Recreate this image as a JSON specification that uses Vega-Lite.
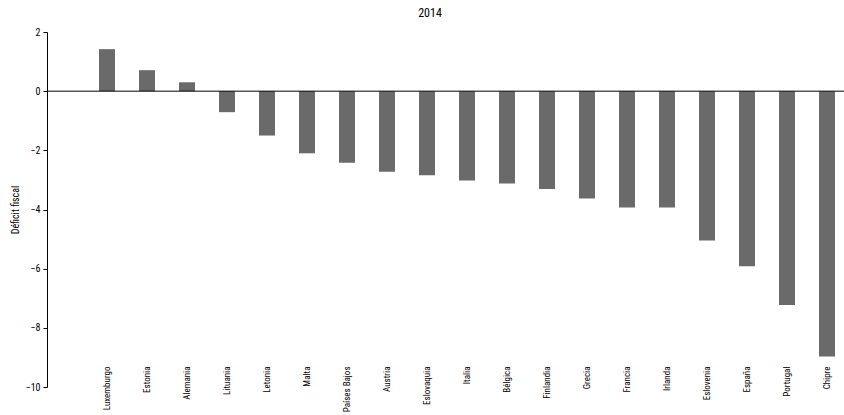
{
  "$schema": "https://vega.github.io/schema/vega-lite/v6.json",
  "autosize": "none",
  "width": 800,
  "height": 355,
  "padding": {"left": 47, "top": 32, "right": 0, "bottom": 28},
  "background": "white",
  "config": {
    "font": "Roboto Condensed, DejaVu Sans Condensed, sans-serif",
    "view": {"stroke": null}
  },
  "title": {
    "text": "2014",
    "fontSize": 12,
    "fontWeight": "normal",
    "color": "#000000",
    "anchor": "middle",
    "dx": -17,
    "offset": 7
  },
  "data": {
    "values": [
      {"pais": "Luxemburgo", "deficit": 1.42},
      {"pais": "Estonia", "deficit": 0.71},
      {"pais": "Alemania", "deficit": 0.3},
      {"pais": "Lituania", "deficit": -0.71},
      {"pais": "Letonia", "deficit": -1.5},
      {"pais": "Malta", "deficit": -2.1},
      {"pais": "Países Bajos", "deficit": -2.42},
      {"pais": "Austria", "deficit": -2.72},
      {"pais": "Eslovaquia", "deficit": -2.84},
      {"pais": "Italia", "deficit": -3.02},
      {"pais": "Bélgica", "deficit": -3.12},
      {"pais": "Finlandia", "deficit": -3.31},
      {"pais": "Grecia", "deficit": -3.63},
      {"pais": "Francia", "deficit": -3.93},
      {"pais": "Irlanda", "deficit": -3.93},
      {"pais": "Eslovenia", "deficit": -5.05},
      {"pais": "España", "deficit": -5.92},
      {"pais": "Portugal", "deficit": -7.23},
      {"pais": "Chipre", "deficit": -8.97}
    ]
  },
  "layer": [
    {
      "mark": {"type": "bar", "color": "#6a6a6a"},
      "encoding": {
        "x": {
          "field": "pais",
          "type": "nominal",
          "sort": null,
          "scale": {
            "domain": [" ", "Luxemburgo", "Estonia", "Alemania", "Lituania", "Letonia", "Malta", "Países Bajos", "Austria", "Eslovaquia", "Italia", "Bélgica", "Finlandia", "Grecia", "Francia", "Irlanda", "Eslovenia", "España", "Portugal", "Chipre"],
            "paddingInner": 0.6,
            "paddingOuter": 0.3
          },
          "axis": {
            "title": null,
            "domain": false,
            "ticks": false,
            "labelAngle": -90,
            "labelAlign": "right",
            "labelBaseline": "middle",
            "labelPadding": -21,
            "labelFontSize": 9,
            "labelColor": "#000000"
          }
        },
        "y": {
          "field": "deficit",
          "type": "quantitative",
          "scale": {"domain": [-10, 2], "nice": false},
          "axis": {
            "title": "Déficit fiscal",
            "titleFontSize": 10,
            "titleFontWeight": "normal",
            "titleColor": "#000000",
            "titlePadding": 5,
            "values": [2, 0, -2, -4, -6, -8, -10],
            "grid": false,
            "domainColor": "#000000",
            "tickColor": "#000000",
            "tickSize": 4,
            "labelFontSize": 10,
            "labelColor": "#000000",
            "labelPadding": 3
          }
        }
      }
    },
    {
      "data": {"values": [{"v": 0}]},
      "mark": {"type": "rule", "color": "#000000", "strokeWidth": 1},
      "encoding": {"y": {"field": "v", "type": "quantitative"}}
    }
  ]
}
